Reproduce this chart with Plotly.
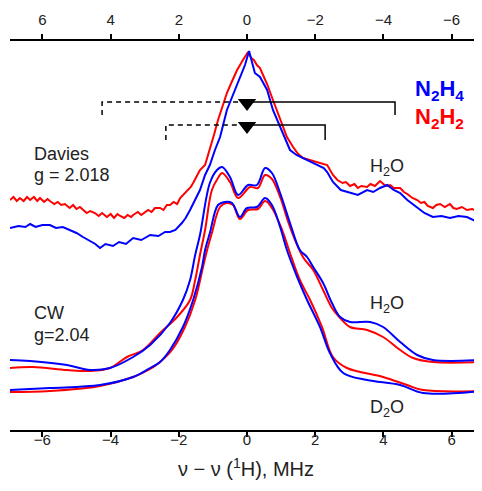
import plotly.graph_objects as go

# ENDOR spectra, x in MHz (nu - nu(1H)), y in arbitrary intensity units
BLUE = '#0000FF'
RED = '#FF0000'

# Davies ENDOR, g = 2.018
dav_n2h4_x = [-6.95, -6.7, -6.5, -6.36, -6.2, -6.0, -5.78, -5.6, -5.4, -5.19, -5.0, -4.81, -4.6, -4.45, -4.31,
              -4.15, -3.93, -3.75, -3.55, -3.34, -3.1, -2.84, -2.6, -2.4, -2.26, -2.1, -1.91, -1.8, -1.67, -1.52,
              -1.38, -1.23, -1.09, -0.94, -0.79, -0.59, -0.44, -0.29, -0.15, -0.06, 0.06, 0.15, 0.23, 0.38, 0.5,
              0.59, 0.76, 0.97, 1.1, 1.26, 1.45, 1.64, 1.85, 2.05, 2.25, 2.35, 2.52, 2.75, 3.02, 3.25, 3.52, 3.7,
              3.9, 4.11, 4.3, 4.49, 4.7, 4.99, 5.2, 5.45, 5.7, 5.95, 6.2, 6.45, 6.7, 6.89]
dav_n2h4_y = [202, 204, 203, 206, 203, 205, 205, 202, 203, 200, 197, 193, 189, 186, 182,
              186, 184, 188, 186, 192, 190, 195, 194, 198, 198, 200, 207, 212, 220, 230,
              240, 255, 265, 280, 293, 320, 333, 347, 358, 365, 379, 368, 357, 353, 345,
              340, 320, 303, 292, 280, 275, 272, 268, 265, 262, 258, 248, 240, 237, 235, 240, 238,
              242, 245, 240, 237, 230, 222, 217, 213, 214, 212, 214, 213, 209, 210]

dav_n2h2_x = [-6.95, -6.85, -6.75, -6.66, -6.55, -6.45, -6.36, -6.25, -6.15, -6.07,
              -5.95, -5.85, -5.78, -5.65, -5.55, -5.45, -5.34, -5.2, -5.1, -5.0,
              -4.9, -4.81, -4.7, -4.6, -4.46, -4.35, -4.25, -4.11, -4.0, -3.9,
              -3.8, -3.72, -3.6, -3.5, -3.4, -3.34, -3.2, -3.1, -2.99, -2.9,
              -2.8, -2.7, -2.55, -2.45, -2.35, -2.26, -2.15, -2.05, -1.96, -1.85,
              -1.75, -1.65, -1.58, -1.45, -1.38, -1.23, -1.09, -0.97, -0.85, -0.72,
              -0.59, -0.45, -0.29, -0.12, 0.03, 0.12, 0.2, 0.29, 0.38, 0.47,
              0.6, 0.76, 0.97, 1.17, 1.35, 1.5, 1.64, 1.85, 2.05, 2.2,
              2.35, 2.52, 2.65, 2.8, 2.9, 3.02, 3.15, 3.25, 3.35, 3.52,
              3.62, 3.75, 3.9, 4.0, 4.1, 4.2, 4.3, 4.49, 4.6, 4.7,
              4.85, 4.99, 5.1, 5.2, 5.3, 5.45, 5.55, 5.66, 5.8, 5.95,
              6.05, 6.15, 6.3, 6.45, 6.6, 6.75, 6.89]
dav_n2h2_y = [230, 233, 229, 232, 229, 233, 230, 233, 229, 232,
              228, 231, 229, 226, 228, 225, 226, 222, 225, 221,
              223, 220, 217, 219, 217, 214, 217, 213, 216, 212,
              216, 214, 212, 215, 213, 215, 218, 215, 218, 220,
              218, 222, 222, 220, 225, 225, 228, 226, 232, 236,
              240, 243, 247, 255, 260, 265, 280, 295, 310, 323,
              337, 348, 360, 370, 378, 372, 370, 365, 362, 355,
              345, 330, 310, 293, 283, 276, 272, 270, 268, 266,
              265, 255, 250, 247, 248, 244, 246, 242, 244, 243,
              246, 244, 249, 246, 244, 245, 242, 242, 238, 236,
              232, 230, 227, 228, 224, 222, 225, 226, 223, 226,
              222, 221, 223, 220, 221, 219, 220]

# CW ENDOR, g = 2.04, H2O
cw_h2o_n2h4_x = [-6.95, -6.36, -5.28, -4.6, -4.02, -3.34, -2.84, -2.26, -1.88, -1.67, -1.52, -1.38, -1.09, -0.88,
                 -0.73, -0.5, -0.26, 0.03, 0.29, 0.53, 0.73, 0.97, 1.26, 1.55, 1.76, 1.94, 2.23, 2.49, 2.73,
                 3.02, 3.61, 3.99, 4.49, 4.99, 5.45, 6.89]
cw_h2o_n2h4_y = [70, 69, 65, 60, 62, 73, 85, 107, 130, 150, 175, 195, 247, 260,
                 263, 253, 235, 245, 245, 262, 257, 237, 207, 180, 173, 163, 147, 127, 113,
                 108, 108, 103, 88, 75, 70, 70]
cw_h2o_n2h2_x = [-6.95, -6.28, -5.28, -4.6, -4.02, -3.52, -3.05, -2.55, -2.05, -1.67, -1.52, -1.38, -1.23, -1.03,
                 -0.85, -0.73, -0.5, -0.26, 0.09, 0.32, 0.53, 0.73, 0.97, 1.26, 1.64, 1.94, 2.23, 2.49, 2.73,
                 3.02, 3.52, 3.99, 4.49, 4.87, 5.45, 6.89]
cw_h2o_n2h2_y = [62, 63, 60, 59, 62, 73, 80, 97, 113, 130, 150, 175, 200, 240,
                 252, 257, 248, 232, 243, 242, 255, 251, 233, 203, 173, 160, 140, 122, 112,
                 103, 100, 93, 80, 72, 68, 68]

# CW ENDOR, D2O
cw_d2o_n2h4_x = [-6.95, -5.78, -4.31, -3.34, -2.84, -2.55, -2.26, -1.88, -1.58, -1.32, -1.23, -1.09, -0.85, -0.65,
                 -0.44, -0.21, 0.0, 0.29, 0.53, 0.73, 0.97, 1.17, 1.47, 1.76, 2.14, 2.43, 2.82, 3.52, 4.49,
                 5.16, 6.89]
cw_d2o_n2h4_y = [40, 42, 45, 53, 62, 68, 80, 103, 130, 163, 180, 197, 225, 228,
                 227, 213, 222, 223, 232, 225, 203, 180, 153, 130, 103, 77, 57, 50, 45,
                 37, 39]
cw_d2o_n2h2_x = [-6.95, -5.78, -4.31, -3.34, -2.84, -2.55, -2.2, -1.82, -1.52, -1.29, -1.17, -1.03, -0.79, -0.59,
                 -0.41, -0.21, 0.03, 0.32, 0.53, 0.73, 1.03, 1.26, 1.55, 1.85, 2.2, 2.52, 2.93, 3.99, 4.69,
                 5.16, 6.89]
cw_d2o_n2h2_y = [38, 39, 44, 53, 61, 68, 80, 103, 130, 163, 180, 197, 223, 227,
                 225, 211, 220, 221, 229, 222, 200, 177, 150, 130, 103, 73, 62, 53, 45,
                 40, 39]

# hyperfine brackets: (left, right, level, drop)
brackets = [(-4.25, 4.34, 328, 13), (-2.38, 2.29, 305, 15)]

top_ticks = [-6, -4, -2, 0, 2, 4, 6]

fig = go.Figure()

series = [
    (dav_n2h2_x, dav_n2h2_y, RED, 'linear'),
    (dav_n2h4_x, dav_n2h4_y, BLUE, 'linear'),
    (cw_h2o_n2h2_x, cw_h2o_n2h2_y, RED, 'spline'),
    (cw_h2o_n2h4_x, cw_h2o_n2h4_y, BLUE, 'spline'),
    (cw_d2o_n2h2_x, cw_d2o_n2h2_y, RED, 'spline'),
    (cw_d2o_n2h4_x, cw_d2o_n2h4_y, BLUE, 'spline'),
]
for xs, ys, col, shape in series:
    fig.add_trace(go.Scatter(x=xs, y=ys, mode='lines', line=dict(color=col, width=2, shape=shape),
                             hoverinfo='skip', showlegend=False))

for left, right, level, drop in brackets:
    fig.add_trace(go.Scatter(x=[left, left, 0], y=[level - drop, level, level], mode='lines',
                             line=dict(color='black', width=1.5, dash='5px,4px'), showlegend=False))
    fig.add_trace(go.Scatter(x=[0, right, right], y=[level, level, level - drop], mode='lines',
                             line=dict(color='black', width=1.5), showlegend=False))
    fig.add_trace(go.Scatter(x=[0], y=[level - 1], mode='markers',
                             marker=dict(symbol='triangle-down', size=16, color='black'), showlegend=False))

# dummy trace so the reversed top axis is drawn
fig.add_trace(go.Scatter(x=[0], y=[-50], xaxis='x2', mode='markers', marker=dict(opacity=0),
                         showlegend=False, hoverinfo='skip'))

font = 'Liberation Sans, Arial, sans-serif'
labels = [
    ('Davies', -6.3, 276, 18, '#222222'),
    ('g = 2.018', -6.3, 255, 18, '#222222'),
    ('CW', -6.3, 117, 18, '#222222'),
    ('g=2.04', -6.3, 95, 18, '#222222'),
    ('H<sub>2</sub>O', 3.55, 263, 18, '#222222'),
    ('H<sub>2</sub>O', 3.55, 126, 18, '#222222'),
    ('D<sub>2</sub>O', 3.55, 22, 18, '#222222'),
    ('<b>N<sub>2</sub>H<sub>4</sub></b>', 4.88, 340, 22, BLUE),
    ('<b>N<sub>2</sub>H<sub>2</sub></b>', 4.88, 312, 22, RED),
]
for txt, x, y, size, col in labels:
    fig.add_annotation(x=x, y=y, xref='x', yref='y', text=txt, showarrow=False, xanchor='left',
                       yanchor='middle', font=dict(family=font, size=size, color=col))

# page body adds an 8px margin, so the figure is sized/offset to compensate
fig.update_layout(
    width=474, height=483,
    margin=dict(l=2, r=0, t=33, b=61),
    plot_bgcolor='white', paper_bgcolor='white',
    font=dict(family=font, size=15, color='#222222'),
    xaxis=dict(range=[-6.95, 6.89], tickvals=top_ticks, showline=True, linecolor='black', linewidth=2,
               ticks='outside', ticklen=5, tickwidth=2, tickcolor='black', showgrid=False, zeroline=False,
               ticklabelstandoff=-10,
               title=dict(text='\u03bd \u2212 \u03bd (<sup>1</sup>H), MHz', font=dict(size=20), standoff=15)),
    xaxis2=dict(range=[6.95, -6.89], tickvals=top_ticks, overlaying='x', side='top', anchor='y',
                showline=True, linecolor='black', linewidth=2, ticks='outside', ticklen=5, tickwidth=2,
                tickcolor='black', showgrid=False, zeroline=False, ticklabelstandoff=3),
    yaxis=dict(range=[0, 389], visible=False, showgrid=False, zeroline=False),
)

fig.write_html('out.html')
